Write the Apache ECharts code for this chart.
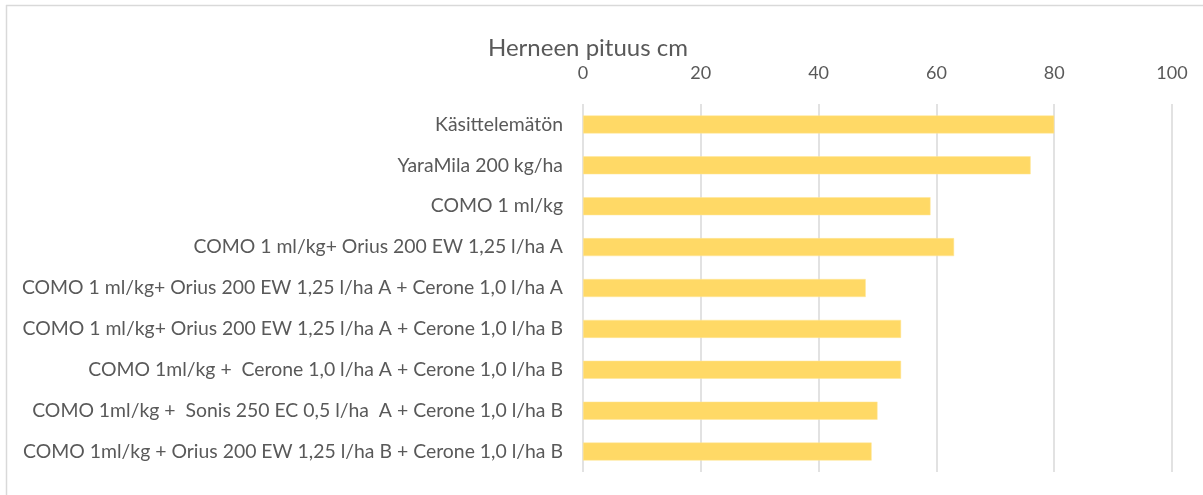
<!DOCTYPE html>
<html>
<head>
<meta charset="utf-8">
<script src="https://cdn.jsdelivr.net/npm/echarts@6/dist/echarts.min.js"></script>
<style>
  html, body { margin: 0; padding: 0; background: #fff; }
  #main { width: 1203px; height: 495px; }
</style>
</head>
<body>
<div id="main"></div>
<script>
// kategoriat ylhäältä alas
var categories = [
    'Käsittelemätön',
    'YaraMila 200 kg/ha',
    'COMO 1 ml/kg',
    'COMO 1 ml/kg+ Orius 200 EW 1,25 l/ha A',
    'COMO 1 ml/kg+ Orius 200 EW 1,25 l/ha A + Cerone 1,0 l/ha A',
    'COMO 1 ml/kg+ Orius 200 EW 1,25 l/ha A + Cerone 1,0 l/ha B',
    'COMO 1ml/kg +  Cerone 1,0 l/ha A + Cerone 1,0 l/ha B',
    'COMO 1ml/kg +  Sonis 250 EC 0,5 l/ha  A + Cerone 1,0 l/ha B',
    'COMO 1ml/kg + Orius 200 EW 1,25 l/ha B + Cerone 1,0 l/ha B'
];
var pituus = [80, 76, 59, 63, 48, 54, 54, 50, 49];
var xTicks = [0, 20, 40, 60, 80, 100];

var fontName = 'Lato, "Open Sans", sans-serif';
var myChart = echarts.init(document.getElementById('main'));
var option = {
    animation: false,
    backgroundColor: '#fff',
    title: {
        text: 'Herneen pituus cm',
        left: 483,
        top: 31,
        textStyle: { fontFamily: fontName, fontSize: 24, fontWeight: 'normal', color: '#595959' }
    },
    graphic: [
        { type: 'line', shape: { x1: 6, y1: 5.5, x2: 1203, y2: 5.5 }, style: { stroke: '#d9d9d9', lineWidth: 1.5 } },
        { type: 'line', shape: { x1: 6.5, y1: 5, x2: 6.5, y2: 495 }, style: { stroke: '#d9d9d9', lineWidth: 1.5 } }
    ],
    grid: {
        left: 583,
        right: 31,
        top: 104,
        bottom: 23
    },
    xAxis: {
        type: 'value',
        position: 'top',
        min: 0,
        max: 100,
        interval: 20,
        axisLine: { show: false },
        axisTick: { show: false },
        axisLabel: {
            fontFamily: fontName, fontSize: 18, color: '#595959', margin: 22,
            formatter: function (v) { return xTicks.indexOf(v) >= 0 ? String(v) : ''; }
        },
        splitLine: { lineStyle: { color: '#d9d9d9', width: 1.5 } }
    },
    yAxis: {
        type: 'category',
        inverse: true,
        data: categories,
        axisLine: { show: false },
        axisTick: { show: false },
        axisLabel: { fontFamily: fontName, fontSize: 19.4, color: '#595959', margin: 20 }
    },
    series: [{
        type: 'bar',
        data: pituus,
        barWidth: 18,
        itemStyle: { color: '#ffd966', borderColor: '#ffe699', borderWidth: 0.5 }
    }]
};
myChart.setOption(option);
</script>
</body>
</html>
